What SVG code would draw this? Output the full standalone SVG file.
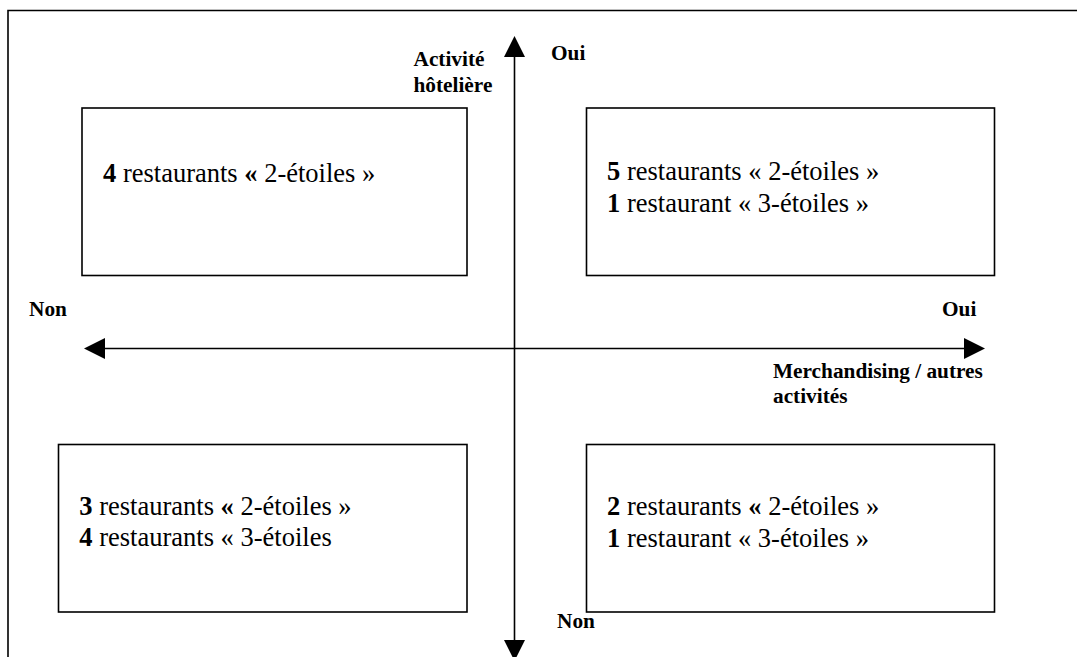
<svg xmlns="http://www.w3.org/2000/svg" width="1077" height="657" viewBox="0 0 1077 657">
<style>
.frame{fill:none;stroke:#000;stroke-width:1.6}
.box{fill:#fff;stroke:#000;stroke-width:1.6}
.axis{stroke:#000;stroke-width:1.6;fill:none}
.body{font-size:26.5px;fill:#000}
.lbl{font-size:21.3px;font-weight:bold;fill:#000}
.b{font-weight:bold}
</style>
<defs>
<marker id="ah" markerUnits="userSpaceOnUse" markerWidth="22" markerHeight="22" viewBox="0 -11 22 22" refX="0" refY="0" orient="auto-start-reverse">
<path d="M0,-10.5 L21,0 L0,10.5 Z" fill="#000"/>
</marker>
</defs>
<rect width="1077" height="657" fill="#fff"/>
<path class="frame" d="M8,665 V10.5 H1085"/>
<g id="connectors">
<line class="axis" x1="514.5" y1="640" x2="514.5" y2="57" marker-start="url(#ah)" marker-end="url(#ah)"/>
<line class="axis" x1="105" y1="348.5" x2="964" y2="348.5" marker-start="url(#ah)" marker-end="url(#ah)"/>
</g>
<g font-family="Liberation Serif, Tinos, Times New Roman, DejaVu Serif, serif">
<g id="axis-labels">
<text class="lbl" x="413.5" y="65.7">Activité</text>
<text class="lbl" x="413.5" y="91.7">hôtelière</text>
<text class="lbl" x="551" y="59.5">Oui</text>
<text class="lbl" x="29" y="316">Non</text>
<text class="lbl" x="942" y="315.5">Oui</text>
<text class="lbl" x="773" y="377.7">Merchandising / autres</text>
<text class="lbl" x="773" y="403.3">activités</text>
<text class="lbl" x="557" y="628.3">Non</text>
</g>
<g id="node-tl">
<rect class="box" x="82" y="108" width="385" height="167.5"/>
<text class="body" x="103" y="182"><tspan class="b">4</tspan> restaurants  <tspan class="b">«</tspan> 2-étoiles »</text>
</g>
<g id="node-tr">
<rect class="box" x="586.5" y="108" width="408" height="167.5"/>
<text class="body" x="607" y="180"><tspan class="b">5</tspan> restaurants « 2-étoiles »</text>
<text class="body" x="607" y="211.7"><tspan class="b">1</tspan> restaurant « 3-étoiles »</text>
</g>
<g id="node-bl">
<rect class="box" x="58.5" y="444.5" width="408.5" height="167.5"/>
<text class="body" x="79.3" y="515"><tspan class="b">3</tspan> restaurants  <tspan class="b">«</tspan> 2-étoiles »</text>
<text class="body" x="79.3" y="545.5"><tspan class="b">4</tspan> restaurants « 3-étoiles</text>
</g>
<g id="node-br">
<rect class="box" x="586.5" y="444.5" width="408" height="167.5"/>
<text class="body" x="607" y="515"><tspan class="b">2</tspan> restaurants  <tspan class="b">«</tspan> 2-étoiles »</text>
<text class="body" x="607" y="546.5"><tspan class="b">1</tspan> restaurant « 3-étoiles »</text>
</g>
</g>
</svg>
